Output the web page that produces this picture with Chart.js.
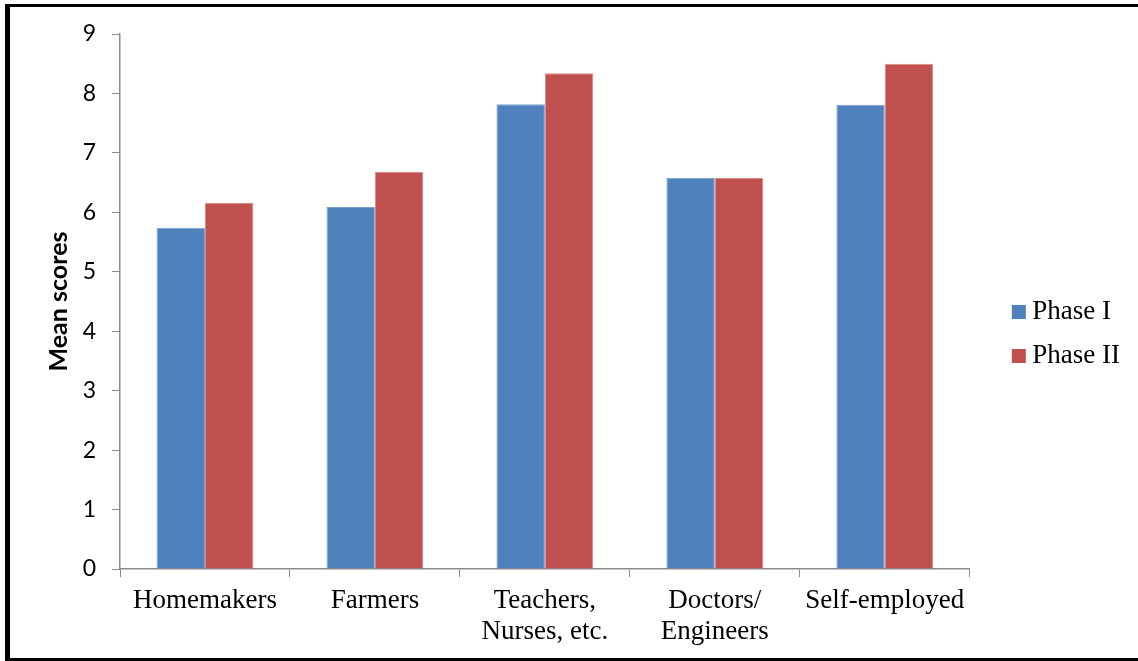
<!DOCTYPE html>
<html>
<head>
<meta charset="utf-8">
<script src="https://cdn.jsdelivr.net/npm/chart.js@4"></script>
<style>
  html, body { margin: 0; padding: 0; background: #fff; }
  #wrap { position: relative; width: 1138px; height: 661px; overflow: hidden; }
  #frame {
    position: absolute; left: 5px; top: 4px; width: 1200px; height: 651px;
    border-top: 3px solid #000; border-left: 5px solid #000; border-bottom: 3px solid #000;
    pointer-events: none;
  }
  canvas { position: absolute; left: 0; top: 0; }
</style>
</head>
<body>
<div id="wrap">
  <canvas id="chart" width="1138" height="661"></canvas>
  <div id="frame"></div>
</div>
<script>
// Occupation groups and mean scores for each phase
const categories = ['Homemakers', 'Farmers', ['Teachers,', 'Nurses, etc.'], ['Doctors/', 'Engineers'], 'Self-employed'];
const phase1 = [5.74, 6.09, 7.82, 6.58, 7.81];
const phase2 = [6.16, 6.68, 8.34, 6.58, 8.50];
const yTicks = [0, 1, 2, 3, 4, 5, 6, 7, 8, 9];

const axisGrey = '#8c8c8c';
const serif = '"Liberation Serif", "Times New Roman", serif';
const sans = 'Lato, "Open Sans", sans-serif';

// Legend swatch: a 14px square sitting right of centre so the label text follows closely
function swatch(color) {
  const c = document.createElement('canvas');
  c.width = 42;
  c.height = 14;
  const g = c.getContext('2d');
  g.fillStyle = color;
  g.fillRect(21, 0, 14, 14);
  return c;
}

// Blank scale used only to reserve space beside the plot
const spacer = (position, size) => ({
  type: 'linear',
  position,
  grid: { display: false },
  border: { display: false },
  ticks: { display: false },
  afterFit(axis) {
    if (axis.isHorizontal()) axis.height = size; else axis.width = size;
  }
});

new Chart(document.getElementById('chart'), {
  type: 'bar',
  data: {
    labels: categories,
    datasets: [
      { label: 'Phase I', data: phase1, xAxisID: 'x', yAxisID: 'y', backgroundColor: '#4F81BD', borderColor: '#7aa0cf', borderWidth: 1, borderSkipped: 'bottom' },
      { label: 'Phase II', data: phase2, xAxisID: 'x', yAxisID: 'y', backgroundColor: '#C0504D', borderColor: '#d98a88', borderWidth: 1, borderSkipped: 'bottom' }
    ]
  },
  options: {
    responsive: false,
    animation: false,
    devicePixelRatio: 1,
    layout: { padding: { left: 46, top: 14, right: 8, bottom: 7 } },
    datasets: { bar: { categoryPercentage: 0.57, barPercentage: 1.0 } },
    plugins: {
      tooltip: { enabled: false },
      legend: {
        position: 'right',
        align: 'center',
        labels: {
          font: { family: serif, size: 27 },
          color: '#000',
          usePointStyle: true,
          boxWidth: 14,
          boxHeight: 14,
          padding: 17,
          generateLabels(chart) {
            return chart.data.datasets.map((ds, i) => ({
              text: ds.label,
              fillStyle: ds.backgroundColor,
              strokeStyle: ds.backgroundColor,
              pointStyle: swatch(ds.backgroundColor),
              lineWidth: 0,
              fontColor: '#000',
              datasetIndex: i,
              hidden: false
            }));
          }
        }
      }
    },
    scales: {
      x: {
        offset: true,
        afterFit(axis) { axis.height = 85; },
        grid: { offset: true, drawOnChartArea: false, drawTicks: true, tickLength: 8, color: axisGrey, tickColor: axisGrey },
        border: { color: axisGrey, width: 1.5 },
        ticks: {
          color: '#000',
          padding: 8,
          maxRotation: 0,
          autoSkip: false,
          font: { family: serif, size: 27, lineHeight: 1.15 }
        }
      },
      y: {
        min: 0,
        max: 9,
        afterBuildTicks(axis) { axis.ticks = yTicks.map(v => ({ value: v })); },
        afterFit(axis) { axis.width = 74; },
        grid: { drawOnChartArea: false, drawTicks: true, tickLength: 8, color: axisGrey, tickColor: axisGrey },
        border: { color: axisGrey, width: 1.5 },
        ticks: {
          color: '#000',
          padding: 16,
          font: { family: sans, size: 23 }
        },
        title: {
          display: true,
          text: 'Mean scores',
          color: '#000',
          padding: 0,
          font: { family: sans, size: 25, weight: 'bold', lineHeight: 1 }
        }
      },
      gapTop: spacer('top', 20),
      gapRight: spacer('right', 18)
    }
  }
});
</script>
</body>
</html>
